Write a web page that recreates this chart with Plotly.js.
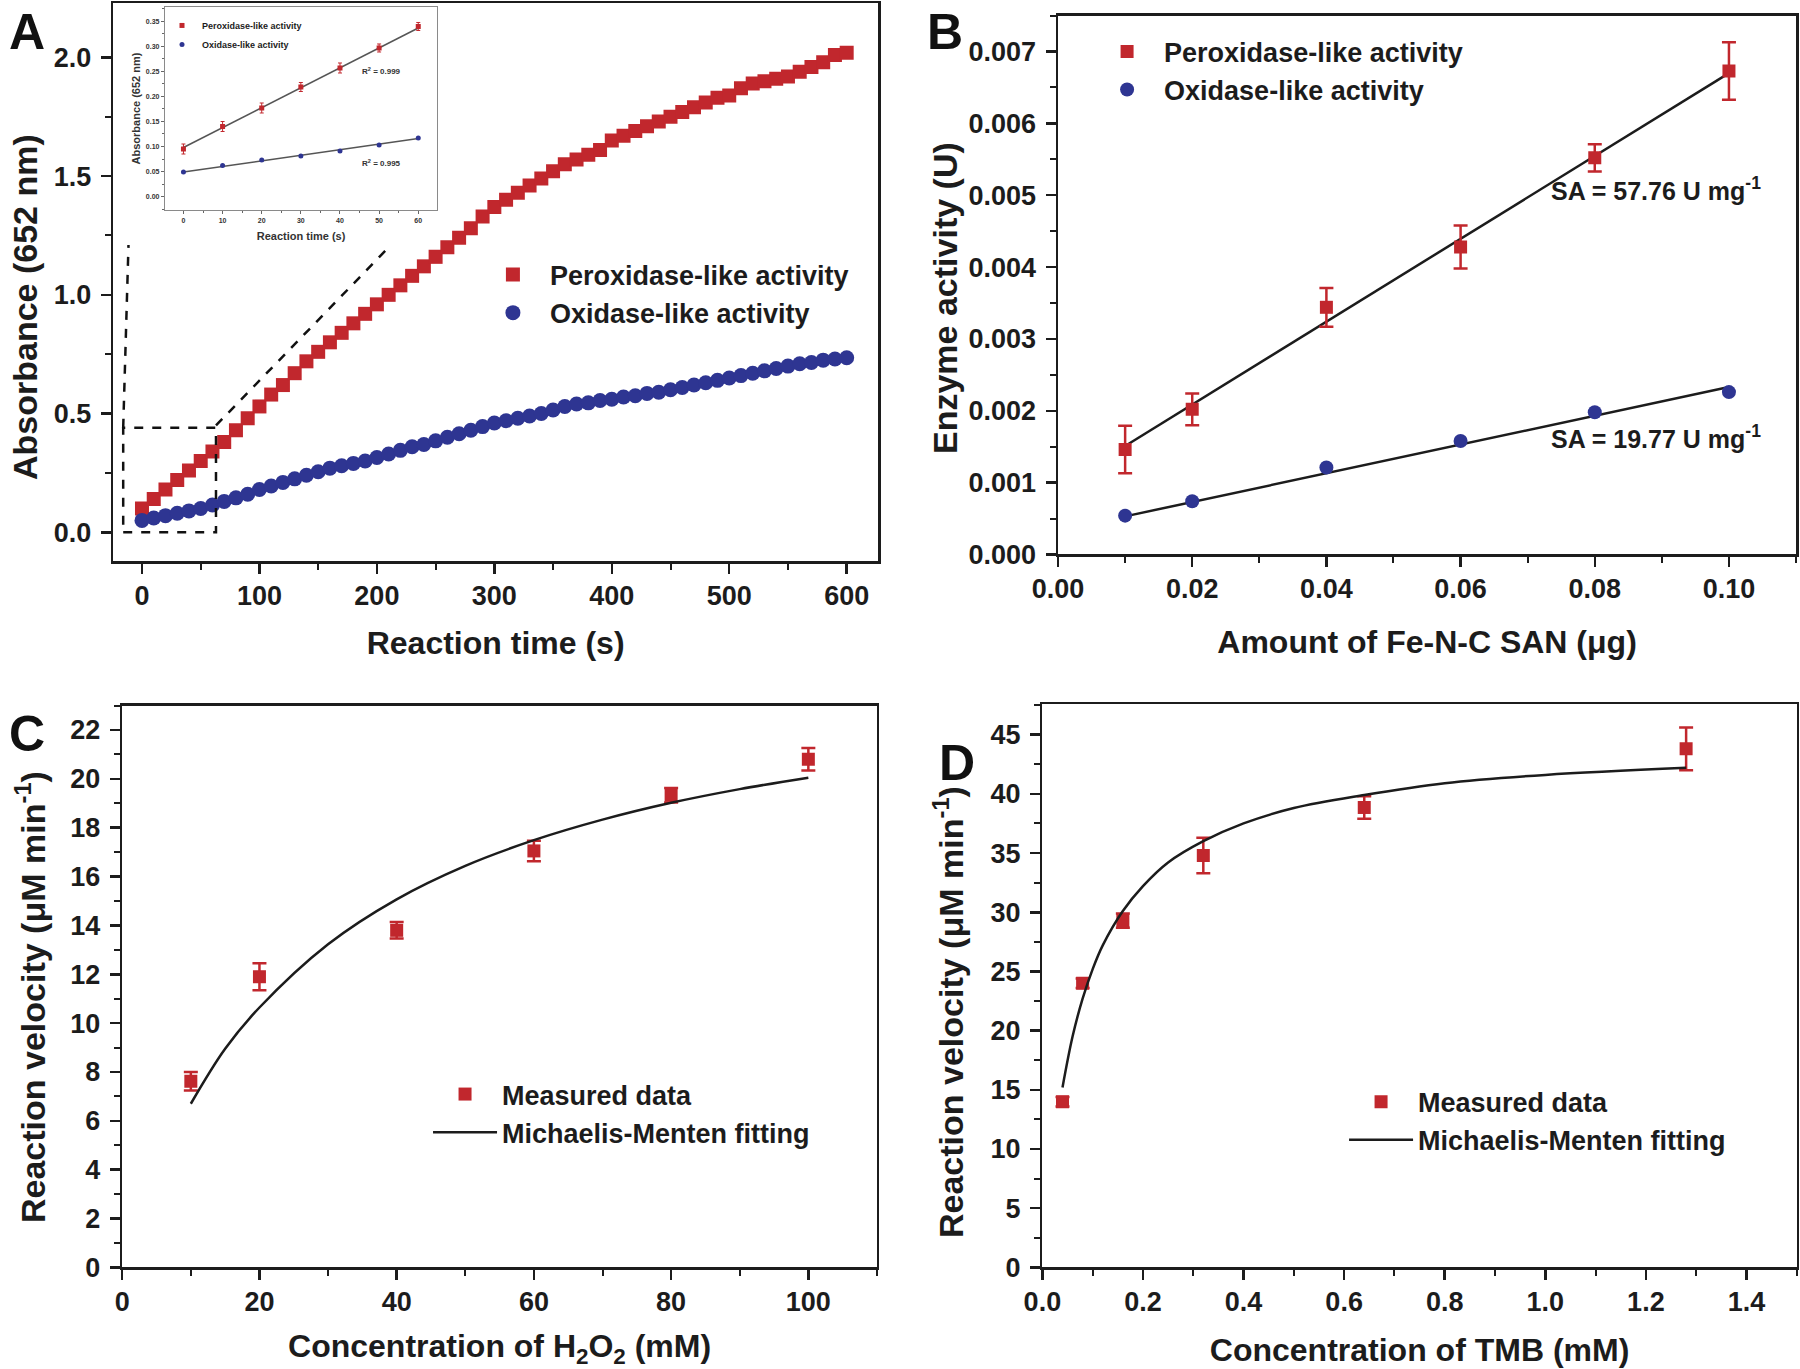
<!DOCTYPE html>
<html>
<head>
<meta charset="utf-8">
<script src="https://cdn.plot.ly/plotly-3.0.1.min.js"></script>
<style>
  body { margin: 0; background: #fff; }
  #chart { width: 1800px; height: 1369px; }
</style>
</head>
<body>
<div id="chart"></div>
<script>
// ---- panel A: absorbance at 652 nm vs reaction time ----
const timeA = [0, 10, 20, 30, 40, 50, 60, 70, 80, 90,
  100, 110, 120, 130, 140, 150, 160, 170, 180, 190,
  200, 210, 220, 230, 240, 250, 260, 270, 280, 290,
  300, 310, 320, 330, 340, 350, 360, 370, 380, 390,
  400, 410, 420, 430, 440, 450, 460, 470, 480, 490,
  500, 510, 520, 530, 540, 550, 560, 570, 580, 590, 600];
const absPerox = [0.10, 0.14, 0.18, 0.22, 0.26, 0.30, 0.34, 0.38, 0.43, 0.48,
  0.53, 0.58, 0.62, 0.67, 0.72, 0.76, 0.80, 0.84, 0.88, 0.92,
  0.96, 1.00, 1.04, 1.08, 1.12, 1.16, 1.20, 1.24, 1.28, 1.33,
  1.37, 1.40, 1.43, 1.46, 1.49, 1.52, 1.55, 1.57, 1.59, 1.61,
  1.65, 1.67, 1.69, 1.71, 1.73, 1.75, 1.77, 1.79, 1.81, 1.83,
  1.84, 1.87, 1.89, 1.90, 1.91, 1.92, 1.94, 1.96, 1.98, 2.01, 2.02];
const absOxid = [0.05, 0.06, 0.07, 0.08, 0.09, 0.10, 0.115, 0.13, 0.145, 0.16,
  0.18, 0.195, 0.21, 0.225, 0.24, 0.255, 0.27, 0.28, 0.29, 0.30,
  0.315, 0.33, 0.345, 0.36, 0.37, 0.385, 0.40, 0.415, 0.43, 0.445,
  0.46, 0.47, 0.48, 0.49, 0.50, 0.515, 0.53, 0.54, 0.545, 0.555,
  0.56, 0.57, 0.575, 0.585, 0.59, 0.60, 0.61, 0.62, 0.63, 0.64,
  0.65, 0.66, 0.67, 0.68, 0.69, 0.70, 0.71, 0.715, 0.725, 0.73, 0.735];

// inset of panel A (first 60 s)
const insetTime = [0, 10, 20, 30, 40, 50, 60];
const insetPerox = [0.095, 0.140, 0.177, 0.219, 0.257, 0.297, 0.340];
const insetPeroxErr = [0.010, 0.010, 0.010, 0.009, 0.010, 0.008, 0.008];
const insetOxid = [0.049, 0.062, 0.073, 0.081, 0.091, 0.103, 0.117];
const insetFitX = [0, 60];
const insetPeroxFit = [0.098, 0.337];
const insetOxidFit = [0.049, 0.116];

// ---- panel B: enzyme activity vs amount of Fe-N-C SAN ----
const amountB = [0.01, 0.02, 0.04, 0.06, 0.08, 0.10];
const peroxB = [0.00146, 0.00202, 0.00344, 0.00428, 0.00552, 0.00673];
const peroxBErr = [0.00033, 0.00022, 0.00027, 0.00030, 0.00019, 0.00040];
const oxidB = [0.00054, 0.00074, 0.00121, 0.00158, 0.00198, 0.00226];
const fitXB = [0.01, 0.10];
const peroxFitB = [0.00151, 0.00670];
const oxidFitB = [0.00053, 0.00233];

// ---- panel C: velocity vs H2O2 ----
const h2o2Conc = [10, 20, 40, 60, 80, 100];
const velocityC = [7.62, 11.9, 13.8, 17.05, 19.33, 20.8];
const velocityCErr = [0.38, 0.55, 0.34, 0.42, 0.30, 0.46];
const mmFitXC = [10, 15, 20, 30, 40, 50, 60, 70, 80, 90, 100];
const mmFitYC = [6.7, 8.95, 10.64, 13.23, 15.07, 16.44, 17.49, 18.33, 19.02, 19.58, 20.05];

// ---- panel D: velocity vs TMB ----
const tmbConc = [0.04, 0.08, 0.16, 0.32, 0.64, 1.28];
const velocityD = [14.0, 24.0, 29.3, 34.8, 38.85, 43.8];
const velocityDErr = [0.4, 0.4, 0.6, 1.5, 0.95, 1.8];
const mmFitXD = [0.04, 0.06, 0.08, 0.10, 0.12, 0.16, 0.20, 0.25, 0.32, 0.40, 0.50, 0.64, 0.80, 1.00, 1.28];
const mmFitYD = [15.2, 19.5, 22.7, 25.2, 27.2, 30.1, 32.2, 34.2, 36.0, 37.5, 38.8, 39.9, 40.9, 41.6, 42.2];

const FONT = '"Liberation Sans", Arial, Helvetica, sans-serif';
const INK = '#1c1c1c';
const RED = '#c1272d';
const BLUE = '#2e3592';
const W = 1800, H = 1369;

function frameAxis(domain, range, dtick, minor, fmt, title, standoff, anchor, labelOff) {
  const ax = {
    domain: domain, range: range, autorange: false, anchor: anchor,
    tick0: 0, dtick: dtick, tickformat: fmt,
    showline: true, mirror: true, linecolor: INK, linewidth: 2.5,
    ticks: 'outside', ticklen: 10, tickwidth: 2.5, tickcolor: INK,
    ticklabelstandoff: labelOff,
    minor: {dtick: minor, ticks: 'outside', ticklen: 6, tickwidth: 2, tickcolor: INK},
    showgrid: false, zeroline: false,
    tickfont: {family: FONT, size: 27, color: INK, weight: 700}
  };
  if (title) {
    ax.title = {text: title, standoff: standoff, font: {family: FONT, size: 32, color: INK, weight: 700}};
  }
  return ax;
}

function insetAxis(domain, range, dtick, minor, fmt, title, anchor, standoff) {
  return {
    domain: domain, range: range, autorange: false, anchor: anchor,
    tick0: 0, dtick: dtick, tickformat: fmt,
    showline: true, mirror: true, linecolor: '#8a8a8a', linewidth: 1.2,
    ticks: 'outside', ticklen: 3, tickwidth: 1, tickcolor: '#666',
    minor: {dtick: minor, ticks: 'outside', ticklen: 2, tickwidth: 1, tickcolor: '#666'},
    showgrid: false, zeroline: false,
    tickfont: {family: FONT, size: 7, color: '#333', weight: 700},
    title: {text: title, standoff: standoff, font: {family: FONT, size: 11, color: '#333', weight: 700}}
  };
}

const redErr = arr => ({type: 'data', array: arr, color: RED, thickness: 2.5, width: 7});

const traces = [
  // panel A
  {x: timeA, y: absPerox, mode: 'markers', name: 'Peroxidase-like activity',
   marker: {symbol: 'square', size: 14, color: RED}, xaxis: 'x', yaxis: 'y', legend: 'legend'},
  {x: timeA, y: absOxid, mode: 'markers', name: 'Oxidase-like activity',
   marker: {symbol: 'circle', size: 15, color: BLUE}, xaxis: 'x', yaxis: 'y', legend: 'legend'},

  // inset
  {x: insetFitX, y: insetPeroxFit, mode: 'lines', line: {color: '#555', width: 1.5},
   showlegend: false, xaxis: 'x5', yaxis: 'y5'},
  {x: insetFitX, y: insetOxidFit, mode: 'lines', line: {color: '#555', width: 1.5},
   showlegend: false, xaxis: 'x5', yaxis: 'y5'},
  {x: insetTime, y: insetPerox, mode: 'markers', name: 'Peroxidase-like activity',
   marker: {symbol: 'square', size: 5, color: RED},
   error_y: {type: 'data', array: insetPeroxErr, color: RED, thickness: 1, width: 2},
   xaxis: 'x5', yaxis: 'y5', legend: 'legend5'},
  {x: insetTime, y: insetOxid, mode: 'markers', name: 'Oxidase-like activity',
   marker: {symbol: 'circle', size: 5, color: BLUE}, xaxis: 'x5', yaxis: 'y5', legend: 'legend5'},

  // panel B
  {x: fitXB, y: peroxFitB, mode: 'lines', line: {color: INK, width: 2.5},
   showlegend: false, xaxis: 'x2', yaxis: 'y2'},
  {x: fitXB, y: oxidFitB, mode: 'lines', line: {color: INK, width: 2.5},
   showlegend: false, xaxis: 'x2', yaxis: 'y2'},
  {x: amountB, y: peroxB, mode: 'markers', name: 'Peroxidase-like activity',
   marker: {symbol: 'square', size: 13, color: RED}, error_y: redErr(peroxBErr),
   xaxis: 'x2', yaxis: 'y2', legend: 'legend2'},
  {x: amountB, y: oxidB, mode: 'markers', name: 'Oxidase-like activity',
   marker: {symbol: 'circle', size: 14, color: BLUE}, xaxis: 'x2', yaxis: 'y2', legend: 'legend2'},

  // panel C
  {x: h2o2Conc, y: velocityC, mode: 'markers', name: 'Measured data',
   marker: {symbol: 'square', size: 13, color: RED}, error_y: redErr(velocityCErr),
   xaxis: 'x3', yaxis: 'y3', legend: 'legend3'},
  {x: mmFitXC, y: mmFitYC, mode: 'lines', name: 'Michaelis-Menten fitting',
   line: {color: INK, width: 2.5, shape: 'spline'}, xaxis: 'x3', yaxis: 'y3', legend: 'legend3'},

  // panel D
  {x: tmbConc, y: velocityD, mode: 'markers', name: 'Measured data',
   marker: {symbol: 'square', size: 13, color: RED}, error_y: redErr(velocityDErr),
   xaxis: 'x4', yaxis: 'y4', legend: 'legend4'},
  {x: mmFitXD, y: mmFitYD, mode: 'lines', name: 'Michaelis-Menten fitting',
   line: {color: INK, width: 2.5, shape: 'spline'}, xaxis: 'x4', yaxis: 'y4', legend: 'legend4'}
];

function legendAt(x, y, size, itemwidth) {
  return {x: x, y: y, xanchor: 'left', yanchor: 'top', bgcolor: 'rgba(0,0,0,0)',
    borderwidth: 0, itemwidth: itemwidth, tracegroupgap: 0, itemclick: false,
    font: {family: FONT, size: size, color: INK, weight: 700}};
}

function panelLabel(text, px, py) {
  return {text: text, xref: 'paper', yref: 'paper', x: px / W, y: 1 - py / H,
    xanchor: 'left', yanchor: 'top', showarrow: false,
    font: {family: FONT, size: 50, color: '#111', weight: 700}};
}

// vertical axis titles, placed in pixels like the reference
function yTitle(text, px, py) {
  return {text: text, xref: 'paper', yref: 'paper', x: px / W, y: 1 - py / H,
    xanchor: 'center', yanchor: 'middle', textangle: -90, showarrow: false,
    font: {family: FONT, size: 34, color: INK, weight: 700}};
}

function textAt(text, px, py, size) {
  return {text: text, xref: 'paper', yref: 'paper', x: px / W, y: 1 - py / H,
    xanchor: 'left', yanchor: 'middle', showarrow: false,
    font: {family: FONT, size: size, color: INK, weight: 700}};
}

const dashed = {color: '#111', width: 2.5, dash: 'dash'};
const velTitle = 'Reaction velocity (μM min<sup>-1</sup>)';

const layout = {
  width: W, height: H,
  margin: {l: 0, r: 0, t: 0, b: 0},
  paper_bgcolor: '#fff', plot_bgcolor: 'rgba(0,0,0,0)',
  showlegend: true,
  font: {family: FONT, color: INK},

  xaxis: frameAxis([0.0629, 0.4878], [-24.5, 626.7], 100, 50, 'd', 'Reaction time (s)', 22, 'y', -1),
  yaxis: frameAxis([0.5902, 0.9978], [-0.121, 2.229], 0.5, 0.25, '.1f', null, 0, 'x', 4),

  xaxis2: frameAxis([0.5878, 0.9978], [0, 0.11], 0.02, 0.01, '.2f', 'Amount of Fe-N-C SAN (μg)', 28, 'y2', -1),
  yaxis2: frameAxis([0.5950, 0.9886], [0, 0.0075], 0.001, 0.0005, '.3f', null, 0, 'x2', 4),

  xaxis3: frameAxis([0.0679, 0.4872], [0, 110], 20, 10, 'd', 'Concentration of H<sub>2</sub>O<sub>2</sub> (mM)', 30, 'y3', -1),
  yaxis3: frameAxis([0.0742, 0.4846], [0, 23], 2, 1, 'd', null, 0, 'x3', 4),

  xaxis4: frameAxis([0.5791, 0.9982], [0, 1.5], 0.2, 0.1, '.1f', 'Concentration of TMB (mM)', 23, 'y4', -1),
  yaxis4: frameAxis([0.0742, 0.4855], [0, 47.56], 5, 2.5, 'd', null, 0, 'x4', 4),

  xaxis5: insetAxis([0.0917, 0.2428], [-4.7, 64.8], 10, 5, 'd', 'Reaction time (s)', 'y5', 9),
  yaxis5: insetAxis([0.8466, 0.9949], [-0.027, 0.379], 0.05, 0.025, '.2f', 'Absorbance (652 nm)', 'x5', 3),

  legend: legendAt(0.2644, 0.8170, 27, 64),
  legend2: legendAt(0.6056, 0.9800, 27, 64),
  legend3: legendAt(0.2378, 0.2184, 27, 64),
  legend4: legendAt(0.7467, 0.2128, 27, 64),
  legend5: legendAt(0.0900, 0.9920, 9, 30),

  shapes: [
    {type: 'rect', xref: 'x', yref: 'y', x0: -16, x1: 63, y0: 0, y1: 0.44, line: dashed},
    {type: 'line', xref: 'x', yref: 'y', x0: -16, y0: 0.44, x1: -11.5, y1: 1.21, line: dashed},
    {type: 'line', xref: 'x', yref: 'y', x0: 63, y0: 0.45, x1: 212, y1: 1.21, line: dashed}
  ],

  annotations: [
    panelLabel('A', 7, 2),
    panelLabel('B', 925, 2),
    panelLabel('C', 7, 704),
    panelLabel('D', 937, 733),
    yTitle('Absorbance (652 nm)', 25, 307),
    yTitle('Enzyme activity (U)', 945, 298),
    yTitle(velTitle, 30, 997),
    yTitle(velTitle, 948, 1012),
    textAt('SA = 57.76 U mg<sup>-1</sup>', 1549, 189, 25),
    textAt('SA = 19.77 U mg<sup>-1</sup>', 1549, 437, 25),
    {text: 'R<sup>2</sup> = 0.999', xref: 'x5', yref: 'y5', x: 45, y: 0.25,
     xanchor: 'left', yanchor: 'middle', showarrow: false,
     font: {family: FONT, size: 8, color: '#333', weight: 700}},
    {text: 'R<sup>2</sup> = 0.995', xref: 'x5', yref: 'y5', x: 45, y: 0.068,
     xanchor: 'left', yanchor: 'middle', showarrow: false,
     font: {family: FONT, size: 8, color: '#333', weight: 700}}
  ]
};

Plotly.newPlot('chart', traces, layout, {displayModeBar: false, staticPlot: true});
</script>
</body>
</html>
